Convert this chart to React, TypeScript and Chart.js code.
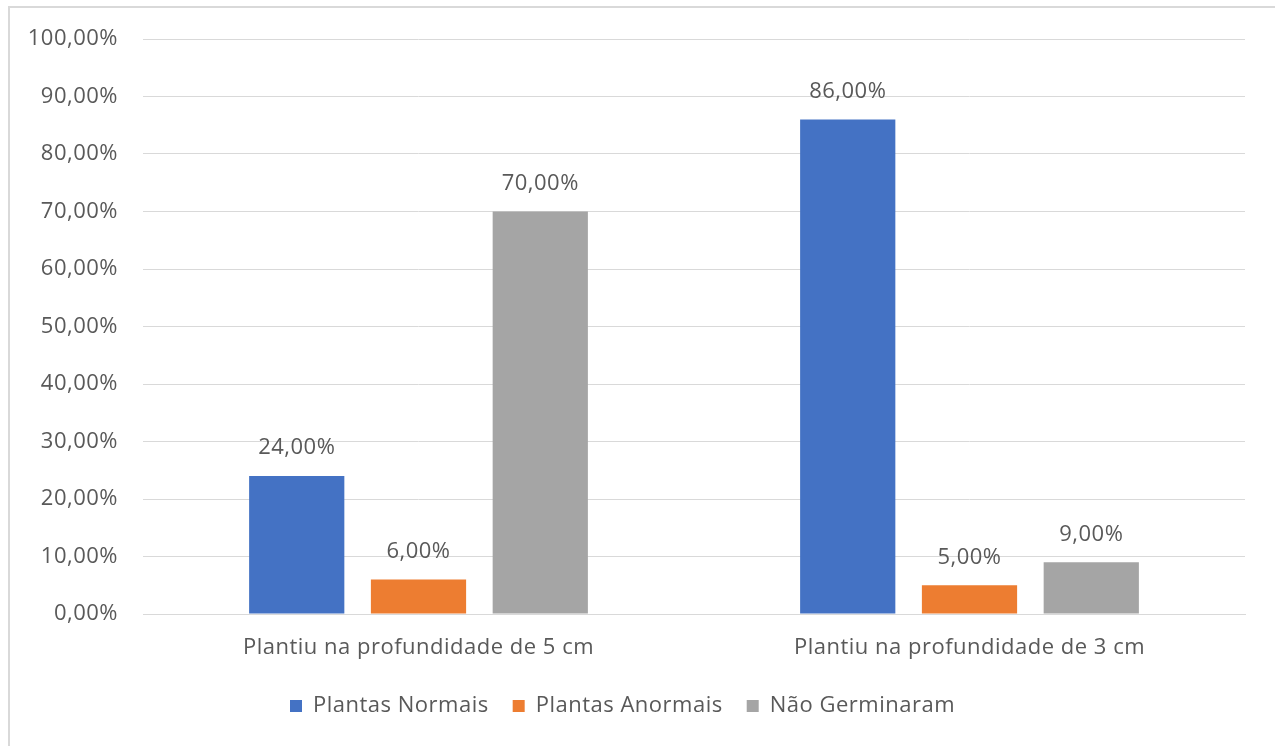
import React, { useEffect, useRef } from "react";
import { Chart, registerables } from "chart.js";

Chart.register(...registerables);

const categories = ["Plantiu na profundidade de 5 cm", "Plantiu na profundidade de 3 cm"];
const seriesNames = ["Plantas Normais", "Plantas Anormais", "Não Germinaram"];
const plantasNormais = [24, 86];
const plantasAnormais = [6, 5];
const naoGerminaram = [70, 9];
const seriesColors = ["#4472C4", "#ED7D31", "#A5A5A5"];
const yTicksMax = 100;
const yTicksStep = 10;

const FONT = "'Open Sans', 'Noto Sans', sans-serif";
const TEXT_COLOR = "#595959";
const FONT_SIZE = 22;
const LETTER_SPACING = "0.5px";

const fmt = (v: number) => v.toFixed(2).replace(".", ",") + "%";

const spacingPlugin = {
  id: "letterSpacing",
  beforeLayout(chart: any) {
    chart.ctx.letterSpacing = LETTER_SPACING;
  },
  beforeDraw(chart: any) {
    chart.ctx.letterSpacing = LETTER_SPACING;
  },
};

const dataLabelPlugin = {
  id: "dataLabels",
  afterDatasetsDraw(chart: any) {
    const ctx = chart.ctx;
    ctx.save();
    ctx.letterSpacing = LETTER_SPACING;
    ctx.font = `${FONT_SIZE}px ${FONT}`;
    ctx.fillStyle = TEXT_COLOR;
    ctx.textAlign = "center";
    ctx.textBaseline = "middle";
    chart.data.datasets.forEach((ds: any, di: number) => {
      const meta = chart.getDatasetMeta(di);
      meta.data.forEach((bar: any, i: number) => {
        ctx.fillText(fmt(ds.data[i]), bar.x, bar.y - 28);
      });
    });
    ctx.restore();
  },
};

export default function App() {
  const canvasRef = useRef<HTMLCanvasElement | null>(null);

  useEffect(() => {
    if (!canvasRef.current) return;
    const seriesData = [plantasNormais, plantasAnormais, naoGerminaram];
    const chart = new Chart(canvasRef.current, {
      type: "bar",
      data: {
        labels: categories,
        datasets: seriesNames.map((name, i) => ({
          label: name,
          data: seriesData[i],
          backgroundColor: seriesColors[i],
          borderWidth: 0,
          categoryPercentage: 0.663,
          barPercentage: 0.782,
        })),
      },
      options: {
        responsive: true,
        maintainAspectRatio: false,
        animation: false,
        layout: { padding: { top: 39, right: 30, bottom: 19, left: 0 } },
        plugins: {
          tooltip: { enabled: false },
          legend: {
            position: "bottom",
            labels: {
              font: { family: FONT, size: FONT_SIZE },
              color: TEXT_COLOR,
              boxWidth: 12,
              boxHeight: 12,
              padding: 24,
            },
          },
        },
        scales: {
          x: {
            grid: { display: false, drawTicks: false },
            border: { display: true, color: "#D9D9D9", width: 1 },
            ticks: {
              font: { family: FONT, size: FONT_SIZE },
              color: TEXT_COLOR,
              padding: 21,
            },
            afterFit: (scale: any) => {
              scale.height = 57;
            },
          },
          y: {
            min: 0,
            max: yTicksMax,
            grid: { color: "#D9D9D9", lineWidth: 1, drawTicks: false },
            border: { display: false },
            ticks: {
              stepSize: yTicksStep,
              font: { family: FONT, size: FONT_SIZE },
              color: TEXT_COLOR,
              padding: 25,
              callback: (v: any) => fmt(Number(v)),
            },
            afterFit: (scale: any) => {
              scale.width = 143;
            },
          },
        },
      },
      plugins: [spacingPlugin, dataLabelPlugin],
    });
    return () => chart.destroy();
  }, []);

  return (
    <div style={{ position: "fixed", left: 0, top: 0, width: 1275, height: 746, background: "#fff", overflow: "hidden" }}>
      <div
        style={{
          position: "absolute",
          left: 8,
          top: 6,
          width: 1320,
          height: 800,
          border: "2px solid #D9D9D9",
          boxSizing: "border-box",
        }}
      />
      <div style={{ position: "absolute", left: 0, top: 0, width: 1275, height: 746 }}>
        <canvas ref={canvasRef} />
      </div>
    </div>
  );
}
